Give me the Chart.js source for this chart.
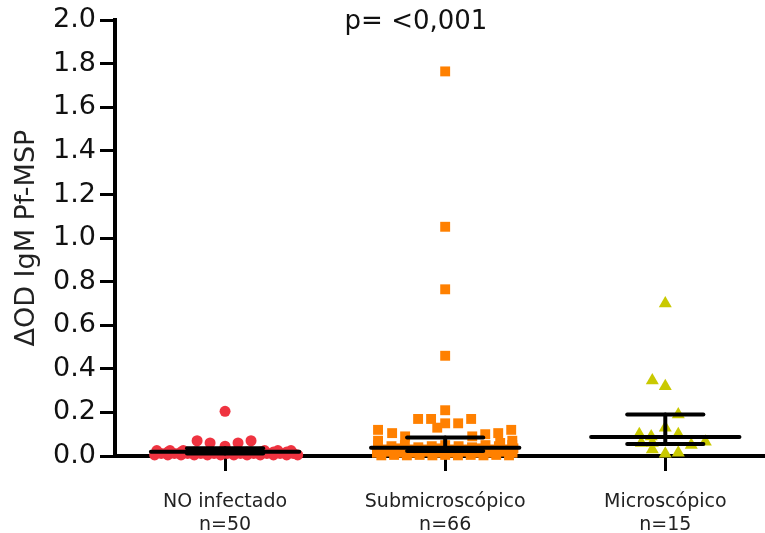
<!DOCTYPE html>
<html>
<head>
<meta charset="utf-8">
<script src="https://cdn.jsdelivr.net/npm/chart.js@4.4.1/dist/chart.umd.min.js"></script>
<style>
  html, body { margin: 0; padding: 0; background: #fff; }
  #wrap { width: 765px; height: 533px; }
</style>
</head>
<body>
<div id="wrap"><canvas id="c" width="765" height="533"></canvas></div>
<script>
// ---- Data ----
const categories = ['NO infectado', 'Submicroscópico', 'Microscópico'];
const nLabels = ['n=50', 'n=66', 'n=15'];
const titleText = 'p= <0,001';
const yAxisTitle = 'ΔOD IgM Pf-MSP';

const medians = [0.02, 0.038, 0.087];
const q1Values = [0.012, 0.023, 0.055];
const q3Values = [0.035, 0.085, 0.19];

// NO infectado (n=50): values and horizontal scatter offsets
const noInfectadoY = [
  0.205, 0.07, 0.06, 0.045, 0.06, 0.07,
  0.025, 0.025, 0.025, 0.025, 0.025, 0.025,
  0.02, 0.02, 0.02, 0.02, 0.02,
  0.005, 0.005, 0.005, 0.005, 0.005, 0.005, 0.005, 0.005, 0.005, 0.005, 0.005, 0.005,
  0.012, 0.012, 0.012, 0.012, 0.012, 0.012, 0.012, 0.012, 0.012, 0.012, 0.012,
  0.018, 0.018, 0.018, 0.018, 0.018, 0.018, 0.018, 0.018, 0.018, 0.018
];
const noInfectadoJitter = [
  0, -0.127, -0.068, 0, 0.059, 0.118,
  -0.31, -0.25, -0.19, 0.18, 0.24, 0.30,
  -0.127, -0.068, 0, 0.059, 0.118,
  -0.32, -0.26, -0.20, -0.14, -0.08, -0.02, 0.04, 0.10, 0.16, 0.22, 0.28, 0.33,
  -0.29, -0.23, -0.17, -0.11, -0.05, 0.01, 0.07, 0.13, 0.19, 0.25, 0.31,
  -0.26, -0.20, -0.14, -0.08, -0.02, 0.04, 0.10, 0.16, 0.22, 0.28
];

// Submicroscópico (n=66)
const submicroY = [
  1.765, 1.052, 0.765, 0.46, 0.21,
  0.17, 0.17, 0.15, 0.15, 0.17, 0.13, 0.12, 0.105, 0.09, 0.10, 0.105, 0.12, 0.07, 0.09, 0.06, 0.07,
  0.05, 0.045, 0.05, 0.04, 0.045, 0.05, 0.045, 0.04, 0.05, 0.045, 0.05,
  0.03, 0.035, 0.03, 0.03, 0.035, 0.03, 0.03, 0.035, 0.03, 0.03, 0.035,
  0.015, 0.02, 0.015, 0.015, 0.02, 0.015, 0.015, 0.02, 0.015, 0.015, 0.02, 0.015,
  0.003, 0.005, 0.003, 0.005, 0.003, 0.005, 0.003, 0.005, 0.003, 0.005, 0.003
];
const submicroJitter = [
  0, 0, 0, 0, 0,
  -0.123, -0.064, 0, 0.059, 0.118, -0.036, -0.305, -0.241, -0.182, 0.182, 0.241, 0.300, -0.305, 0.123, 0.250, 0.305,
  -0.305, -0.244, -0.183, -0.122, -0.061, 0, 0.061, 0.122, 0.183, 0.244, 0.305,
  -0.275, -0.214, -0.153, -0.092, -0.031, 0.031, 0.092, 0.153, 0.214, 0.275, 0.31,
  -0.31, -0.254, -0.198, -0.142, -0.086, -0.03, 0.026, 0.082, 0.138, 0.194, 0.25, 0.306,
  -0.29, -0.232, -0.174, -0.116, -0.058, 0, 0.058, 0.116, 0.174, 0.232, 0.29
];

// Microscópico (n=15)
const microY = [0.70, 0.346, 0.32, 0.19, 0.13, 0.10, 0.09, 0.10, 0.06, 0.06, 0.05, 0.065, 0.03, 0.01, 0.015];
const microJitter = [0, -0.059, 0, 0.059, 0, -0.118, -0.064, 0.059, -0.109, -0.059, 0.118, 0.182, -0.059, 0, 0.059];

const groupY = [noInfectadoY, submicroY, microY];
const groupJitter = [noInfectadoJitter, submicroJitter, microJitter];

// ---- Styles ----
const pointColors = ['#ef3340', '#ff8000', '#c9c900'];
const pointStyles = ['circle', 'rect', 'triangle'];
const pointRadii = [5.5, 7, 7.5];
const medianHalf = 0.337;
const iqrHalf = 0.173;

const datasets = [];
// summary lines (drawn on top)
for (let i = 0; i < 3; i++) {
  const c = i + 1;
  const segs = [
    [{x: c - medianHalf, y: medians[i]}, {x: c + medianHalf, y: medians[i]}],
    [{x: c - iqrHalf, y: q3Values[i]}, {x: c + iqrHalf, y: q3Values[i]}],
    [{x: c - iqrHalf, y: q1Values[i]}, {x: c + iqrHalf, y: q1Values[i]}],
    [{x: c, y: q1Values[i]}, {x: c, y: q3Values[i]}]
  ];
  segs.forEach(s => datasets.push({
    type: 'line', data: s, showLine: true, borderColor: '#000', borderWidth: 4,
    borderCapStyle: 'round', pointRadius: 0, order: 0, clip: false
  }));
}
for (let i = 0; i < 3; i++) {
  const c = i + 1;
  datasets.push({
    type: 'scatter',
    label: categories[i],
    data: groupY[i].map((v, k) => ({x: c + groupJitter[i][k], y: v})),
    pointStyle: pointStyles[i],
    pointRadius: pointRadii[i],
    backgroundColor: pointColors[i],
    borderColor: pointColors[i],
    borderWidth: 0,
    order: 1,
    clip: false
  });
}

const titlePlugin = {
  id: 'pTitle',
  afterDraw(chart) {
    const ctx = chart.ctx;
    const a = chart.chartArea;
    ctx.save();
    ctx.font = '26px "DejaVu Sans"';
    ctx.fillStyle = '#111';
    ctx.textAlign = 'center';
    ctx.textBaseline = 'middle';
    ctx.fillText(titleText, a.left + 301, a.top + 2);
    ctx.restore();
  }
};

new Chart(document.getElementById('c'), {
  type: 'scatter',
  data: { datasets },
  plugins: [titlePlugin],
  options: {
    responsive: false,
    animation: false,
    layout: { autoPadding: false, padding: { top: 17, right: 0, left: 0, bottom: 0 } },
    plugins: { legend: { display: false }, tooltip: { enabled: false } },
    scales: {
      x: {
        type: 'linear', min: 0.5, max: 3.453,
        afterBuildTicks: s => { s.ticks = [{value: 1}, {value: 2}, {value: 3}]; },
        afterFit: s => { s.height = 77; s.paddingRight = 0; s.paddingLeft = 0; },
        ticks: {
          autoSkip: false, maxRotation: 0, padding: 20,
          color: '#222', font: { family: 'DejaVu Sans', size: 19 },
          callback: v => [categories[Math.round(v) - 1], nLabels[Math.round(v) - 1]]
        },
        grid: { drawOnChartArea: false, drawTicks: true, tickLength: 15, tickWidth: 3, tickColor: '#000' },
        border: { display: true, color: '#000', width: 4 }
      },
      y: {
        type: 'linear', min: 0, max: 2,
        afterFit: s => { s.width = 115; },
        ticks: {
          stepSize: 0.2, padding: 4, color: '#111',
          font: { family: 'DejaVu Sans', size: 27 },
          callback: v => Number(v).toFixed(1)
        },
        grid: { drawOnChartArea: false, drawTicks: true, tickLength: 15, tickWidth: 3, tickColor: '#000' },
        border: { display: true, color: '#000', width: 4 },
        title: {
          display: true, text: yAxisTitle, color: '#222',
          font: { family: 'DejaVu Sans', size: 27 }, padding: { top: 11, bottom: 0 }
        }
      }
    }
  }
});
</script>
</body>
</html>
